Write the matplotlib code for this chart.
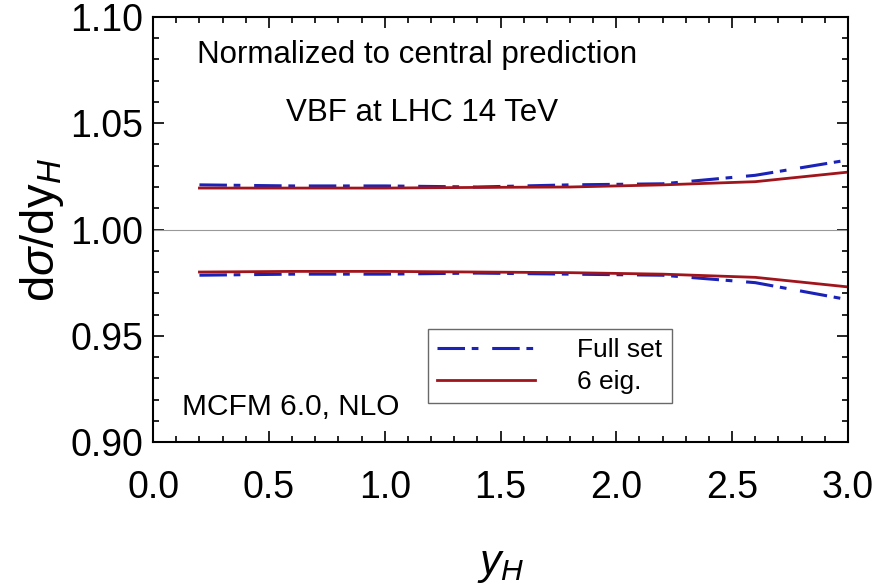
import matplotlib.pyplot as plt
from matplotlib.ticker import MultipleLocator

plt.rcParams['font.family'] = ['Liberation Sans', 'DejaVu Sans']
plt.rcParams['mathtext.fontset'] = 'custom'
plt.rcParams['mathtext.rm'] = 'Liberation Sans'
plt.rcParams['mathtext.it'] = 'Liberation Sans:italic'

# rapidity points
y_h = [0.2, 0.6, 1.0, 1.4, 1.8, 2.2, 2.6, 3.0]

# full set of eigenvectors (upper / lower band)
full_up = [1.021, 1.0205, 1.0205, 1.0200, 1.0210, 1.0215, 1.0255, 1.0327]
full_lo = [0.9785, 0.9790, 0.9790, 0.9795, 0.9790, 0.9785, 0.9750, 0.9670]

# 6 eigenvectors
eig_up = [1.0195, 1.0195, 1.0195, 1.0198, 1.0200, 1.0210, 1.0225, 1.0270]
eig_lo = [0.9800, 0.9803, 0.9803, 0.9800, 0.9797, 0.9790, 0.9775, 0.9730]

fig = plt.figure(figsize=(8.75, 5.84), dpi=100)
ax = fig.add_axes([0.175, 0.243, 0.794, 0.728])

blue = '#1a22b8'
red = '#a0141c'
dashdot = (0, (9, 2.2, 2.2, 4.5))

ax.axhline(1.0, color='#999999', lw=0.8)
ax.plot(y_h, full_up, color=blue, lw=2.2, ls=dashdot, label='Full set')
ax.plot(y_h, eig_up, color=red, lw=2.0, label='6 eig.')
ax.plot(y_h, full_lo, color=blue, lw=2.2, ls=dashdot)
ax.plot(y_h, eig_lo, color=red, lw=2.0)

ax.set_xlim(0, 3.0)
ax.set_ylim(0.90, 1.10)
ax.xaxis.set_major_locator(MultipleLocator(0.5))
ax.xaxis.set_minor_locator(MultipleLocator(0.1))
ax.yaxis.set_major_locator(MultipleLocator(0.05))
ax.yaxis.set_minor_locator(MultipleLocator(0.01))
ax.xaxis.set_major_formatter(plt.FormatStrFormatter('%.1f'))
ax.yaxis.set_major_formatter(plt.FormatStrFormatter('%.2f'))
ax.tick_params(which='both', direction='in', top=True, right=True, labelsize=27, width=1.2)
ax.tick_params(which='major', length=8)
ax.tick_params(which='minor', length=4.5)
ax.tick_params(axis='x', which='major', pad=20)
ax.tick_params(axis='y', which='major', pad=7)
for s in ax.spines.values():
    s.set_linewidth(1.5)

ax.set_ylabel(r'd$\sigma$/dy$_H$', fontsize=34, labelpad=3)
ax.set_xlabel(r'$y_H$', fontsize=31, labelpad=28)

ax.text(0.063, 0.91, 'Normalized to central prediction', transform=ax.transAxes,
        fontsize=22.5, va='center')
ax.text(0.387, 0.774, 'VBF at LHC 14 TeV', transform=ax.transAxes,
        fontsize=22.5, va='center', ha='center')
ax.text(0.042, 0.082, 'MCFM 6.0, NLO', transform=ax.transAxes,
        fontsize=21.5, va='center')

leg = ax.legend(loc='upper left', bbox_to_anchor=(0.396, 0.266), fontsize=19,
                frameon=True, fancybox=False, edgecolor='#444444',
                handlelength=3.7, borderpad=0.35, labelspacing=0.3, handletextpad=1.6,
                borderaxespad=0)
leg.get_frame().set_linewidth(1.0)

fig.savefig('out.png', dpi=100)
